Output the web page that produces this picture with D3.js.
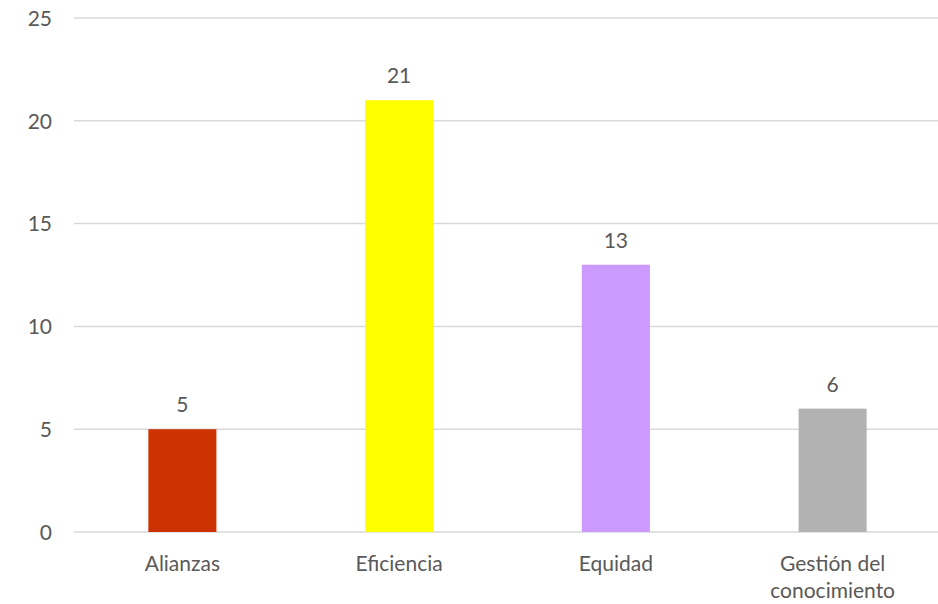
<!DOCTYPE html>
<html>
<head>
<meta charset="utf-8">
<script src="https://cdn.jsdelivr.net/npm/d3@7"></script>
<style>
  html, body { margin: 0; padding: 0; background: #fff; }
  #chart text { font-family: Lato, "Open Sans", sans-serif; fill: #595959; }
</style>
</head>
<body>
<div id="chart"></div>
<script>
var categories = ['Alianzas', 'Eficiencia', 'Equidad', 'Gestión del conocimiento'];
var values = [5, 21, 13, 6];
var barColors = ['#CC3300', '#FFFF00', '#CC99FF', '#B2B2B2'];
var yTicks = [0, 5, 10, 15, 20, 25];

var width = 938, height = 604;
var svg = d3.select('#chart').append('svg').attr('width', width).attr('height', height);

var x = d3.scaleBand().domain(categories).range([74, 941]).paddingInner(0.686).paddingOuter(0.343);
var y = d3.scaleLinear().domain([0, 25]).range([532, 18]);

// gridlines
svg.append('g').selectAll('line').data(yTicks).enter().append('line')
  .attr('x1', 74).attr('x2', width)
  .attr('y1', function(d) { return y(d); }).attr('y2', function(d) { return y(d); })
  .attr('stroke', '#d9d9d9').attr('stroke-width', 1.5);

// y axis labels
var yAxis = d3.axisLeft(y).tickValues(yTicks).tickSize(0).tickPadding(0);
var gy = svg.append('g').attr('transform', 'translate(52,0)').call(yAxis);
gy.select('.domain').remove();
gy.selectAll('text').style('font-size', '21px').attr('dy', '0.35em');

// bars
svg.append('g').selectAll('rect').data(values).enter().append('rect')
  .attr('x', function(d, i) { return x(categories[i]); })
  .attr('y', function(d) { return y(d); })
  .attr('width', x.bandwidth())
  .attr('height', function(d) { return y(0) - y(d); })
  .attr('fill', function(d, i) { return barColors[i]; });

// value labels
svg.append('g').selectAll('text').data(values).enter().append('text')
  .attr('x', function(d, i) { return x(categories[i]) + x.bandwidth() / 2; })
  .attr('y', function(d) { return y(d) - 17; })
  .attr('text-anchor', 'middle').style('font-size', '21px')
  .text(function(d) { return d; });

// x labels (wrapped)
var wrap = { 'Gestión del conocimiento': ['Gestión del', 'conocimiento'] };
var xl = svg.append('g').selectAll('text').data(categories).enter().append('text')
  .attr('text-anchor', 'middle').style('font-size', '21px')
  .attr('transform', function(d) { return 'translate(' + (x(d) + x.bandwidth() / 2) + ',571)'; });
xl.each(function(d) {
  var lines = wrap[d] || [d];
  var t = d3.select(this);
  lines.forEach(function(l, i) {
    t.append('tspan').attr('x', 0).attr('y', i * 27).text(l);
  });
});
</script>
</body>
</html>
